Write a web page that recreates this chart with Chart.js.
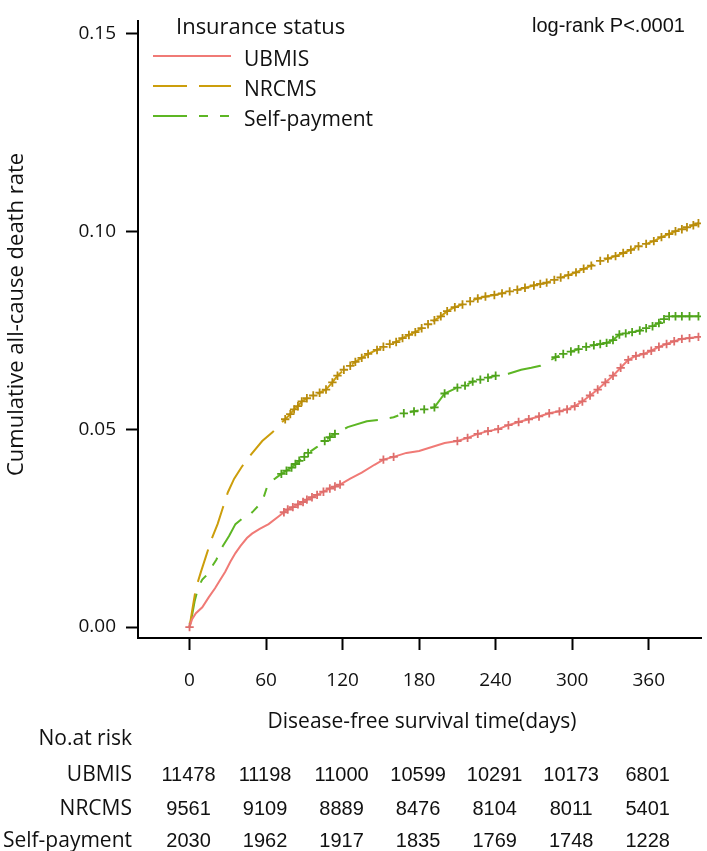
<!DOCTYPE html>
<html>
<head>
<meta charset="utf-8">
<script src="https://cdn.jsdelivr.net/npm/chart.js@4.4.1/dist/chart.umd.min.js"></script>
<style>
  html, body { margin: 0; padding: 0; background: #fff; }
  #km { display: block; }
</style>
</head>
<body>
<canvas id="km" width="707" height="851"></canvas>
<script>
/* KM curve — cumulative all-cause death by insurance status */

const GROUPS = ["UBMIS", "NRCMS", "Self-payment"];
const X_TICKS = [0, 60, 120, 180, 240, 300, 360];
const Y_TICKS = [0, 0.05, 0.1, 0.15];

const UBMIS_DAYS = [0, 2, 5, 10, 15, 20, 23, 28, 32, 36, 40, 45, 49, 55, 62, 70, 74, 77, 81, 85,
  89, 92, 96, 100, 105, 110, 114, 118, 126, 135, 145, 152, 160, 170, 180, 190, 200, 210, 218, 226,
  234, 242, 250, 258, 266, 274, 282, 290, 296, 302, 308, 314, 320, 326, 332, 338, 344, 350, 356, 362,
  368, 374, 380, 386, 392, 399];
const UBMIS_RATE = [0, .002, .0035, .005, .0075, .0098, .0114, .014, .0165, .0187, .0205, .0225, .0236, .0248, .026, .028, .029, .0297, .0303, .031,
  .0316, .0322, .0328, .0334, .0342, .035, .0355, .036, .0375, .039, .041, .0423, .043, .044, .0445, .0455, .0465, .047, .0478, .0488,
  .0495, .050, .051, .0518, .0525, .0532, .054, .0545, .055, .0558, .057, .0585, .060, .0618, .0635, .0655, .0675, .0685, .069, .0698,
  .0708, .0715, .0722, .0728, .073, .0733];

const NRCMS_DAYS = [0, 2, 5, 9, 13, 17, 22, 26, 30, 35, 41, 48, 57, 65, 70, 75, 79, 82, 85, 88,
  92, 97, 102, 107, 112, 116, 121, 126, 130, 135, 140, 147, 152, 157, 162, 167, 172, 177, 182, 187,
  192, 197, 202, 208, 214, 220, 226, 232, 239, 245, 251, 257, 263, 270, 275, 280, 286, 291, 297, 303,
  309, 315, 322, 328, 334, 340, 346, 352, 358, 364, 370, 376, 381, 386, 390, 395, 399];
const NRCMS_RATE = [0, .004, .0098, .014, .018, .022, .026, .030, .034, .0375, .0405, .0435, .047, .0492, .051, .0525, .0538, .055, .0558, .057,
  .0578, .0585, .0592, .060, .0618, .0635, .065, .066, .067, .068, .069, .070, .0708, .0715, .072, .073, .0738, .0745, .0755, .0765,
  .0775, .0785, .0798, .0808, .0815, .0823, .083, .0835, .0839, .0843, .0848, .0852, .0857, .0863, .0867, .087, .0877, .0883, .0889, .0896,
  .0905, .0913, .0925, .0931, .0937, .0945, .0953, .0962, .0968, .0975, .0985, .0993, .100, .1005, .101, .1015, .102];

const SELF_DAYS = [0, 2, 4, 7, 10, 13, 17, 21, 26, 31, 36, 41, 46, 50, 57, 62, 67, 72, 76, 80,
  83, 86, 90, 93, 100, 106, 110, 114, 124, 139, 152, 160, 168, 176, 184, 192, 200, 210, 216, 222,
  228, 234, 240, 250, 260, 268, 275, 281, 287, 293, 299, 305, 311, 317, 322, 327, 332, 337, 342, 347,
  353, 358, 363, 368, 372, 376, 381, 386, 392, 399];
const SELF_RATE = [0, .003, .0065, .0102, .012, .013, .015, .017, .0204, .023, .026, .0273, .028, .0293, .0317, .0366, .0375, .0387, .0395, .0403,
  .0412, .042, .043, .044, .0455, .047, .048, .0488, .0505, .052, .0525, .053, .054, .0545, .055, .0555, .059, .0605, .061, .062,
  .0625, .063, .0635, .064, .065, .0655, .066, .067, .0682, .069, .0696, .0702, .0708, .0712, .0715, .0718, .0725, .0739, .0742, .0745,
  .0749, .0755, .076, .0768, .0778, .0785, .0785, .0785, .0785, .0785];

// day ranges where censoring marks (+) show on the curve
const UBMIS_CENSOR = [[0, 0], [74, 118], [150, 160], [205, 400]];
const NRCMS_CENSOR = [[75, 400]];
const SELF_CENSOR = [[72, 93], [106, 114], [165, 200], [210, 240], [285, 400]];

const AT_RISK_UBMIS = [11478, 11198, 11000, 10599, 10291, 10173, 6801];
const AT_RISK_NRCMS = [9561, 9109, 8889, 8476, 8104, 8011, 5401];
const AT_RISK_SELF = [2030, 1962, 1917, 1835, 1769, 1748, 1228];

const COLORS = { UBMIS: "#F07A76", NRCMS: "#CC9E0C", "Self-payment": "#5DB624" };
const MARKS = { UBMIS: "#DE6E6C", NRCMS: "#B88C0C", "Self-payment": "#4FA31C" };
const DASHES = { UBMIS: [], NRCMS: [34, 12], "Self-payment": [34, 12, 9, 12, 9, 12] };

const TEXT = "#111";
const OPEN = "'Open Sans', sans-serif";
const ARIAL = "'Liberation Sans', Arial, sans-serif";

function points(days, rates) {
  return days.map((d, i) => ({ x: d, y: rates[i] }));
}

function censored(ranges) {
  return (c) => {
    const d = c.raw && c.raw.x;
    return ranges.some(([a, b]) => d >= a && d <= b) ? 4.2 : 0;
  };
}

function series(name, days, rates, ranges) {
  return {
    label: name,
    data: points(days, rates),
    borderColor: COLORS[name],
    borderWidth: 2,
    borderDash: DASHES[name],
    tension: 0,
    fill: false,
    pointStyle: "cross",
    pointRadius: censored(ranges),
    pointHoverRadius: 0,
    pointBorderWidth: 1.8,
    pointBorderColor: MARKS[name],
    pointBackgroundColor: MARKS[name],
  };
}

const kmText = {
  id: "kmText",
  afterDraw(chart) {
    const { ctx } = chart;
    const xs = chart.scales.x;
    ctx.save();
    ctx.fillStyle = TEXT;
    ctx.textBaseline = "alphabetic";

    // y axis title
    ctx.save();
    ctx.translate(23, 314.5);
    ctx.rotate(-Math.PI / 2);
    ctx.font = `22px ${OPEN}`;
    ctx.textAlign = "center";
    ctx.fillText("Cumulative all-cause death rate", 0, 0);
    ctx.restore();

    // legend
    ctx.font = `22px ${OPEN}`;
    ctx.textAlign = "left";
    ctx.fillText("Insurance status", 176, 34);
    const rowY = [56, 86, 116];
    const baseY = [66, 96, 126];
    GROUPS.forEach((g, i) => {
      ctx.save();
      ctx.strokeStyle = COLORS[g];
      ctx.lineWidth = 2;
      ctx.setLineDash(DASHES[g]);
      ctx.beginPath();
      ctx.moveTo(153, rowY[i]);
      ctx.lineTo(231, rowY[i]);
      ctx.stroke();
      ctx.restore();
      ctx.font = `21px ${OPEN}`;
      ctx.fillText(g, 244, baseY[i]);
    });

    ctx.font = `20px ${ARIAL}`;
    ctx.fillText("log-rank P<.0001", 532, 32);

    // x axis title
    ctx.font = `21px ${OPEN}`;
    ctx.textAlign = "center";
    ctx.fillText("Disease-free survival time(days)", 422, 728);

    // number at risk
    ctx.textAlign = "right";
    ctx.font = `21px ${OPEN}`;
    ctx.fillText("No.at risk", 132, 745);
    const rows = [AT_RISK_UBMIS, AT_RISK_NRCMS, AT_RISK_SELF];
    const rowBase = [781, 815, 847];
    rows.forEach((vals, i) => {
      ctx.textAlign = "right";
      ctx.font = `21px ${OPEN}`;
      ctx.fillText(GROUPS[i], 132, rowBase[i]);
      ctx.textAlign = "center";
      ctx.font = `20px ${ARIAL}`;
      vals.forEach((v, j) => {
        ctx.fillText(String(v), xs.getPixelForValue(X_TICKS[j]) - 1, rowBase[i]);
      });
    });
    ctx.restore();
  },
};

new Chart(document.getElementById("km"), {
  type: "line",
  data: {
    datasets: [
      series("UBMIS", UBMIS_DAYS, UBMIS_RATE, UBMIS_CENSOR),
      series("NRCMS", NRCMS_DAYS, NRCMS_RATE, NRCMS_CENSOR),
      series("Self-payment", SELF_DAYS, SELF_RATE, SELF_CENSOR),
    ],
  },
  options: {
    responsive: false,
    devicePixelRatio: 1,
    animation: false,
    events: [],
    layout: { padding: 0 },
    plugins: { legend: { display: false }, tooltip: { enabled: false } },
    scales: {
      x: {
        type: "linear",
        min: -40.4,
        max: 401,
        afterBuildTicks: (s) => { s.ticks = X_TICKS.map((v) => ({ value: v })); },
        afterFit: (s) => { s.height = 213; },
        grid: { drawOnChartArea: false, drawTicks: true, tickLength: 12, tickColor: "#000", tickWidth: 2 },
        border: { display: true, color: "#000", width: 2 },
        ticks: { color: TEXT, font: { family: OPEN, size: 19 }, padding: 19, callback: (v) => String(v), maxRotation: 0 },
      },
      y: {
        type: "linear",
        min: -0.00276,
        max: 0.153,
        afterBuildTicks: (s) => { s.ticks = Y_TICKS.map((v) => ({ value: v })); },
        afterFit: (s) => { s.width = 138; },
        grid: { drawOnChartArea: false, drawTicks: true, tickLength: 12, tickColor: "#000", tickWidth: 2 },
        border: { display: true, color: "#000", width: 2 },
        ticks: { color: TEXT, font: { family: OPEN, size: 19 }, padding: 10, callback: (v) => v.toFixed(2) },
      },
    },
  },
  plugins: [kmText],
});
</script>
</body>
</html>
